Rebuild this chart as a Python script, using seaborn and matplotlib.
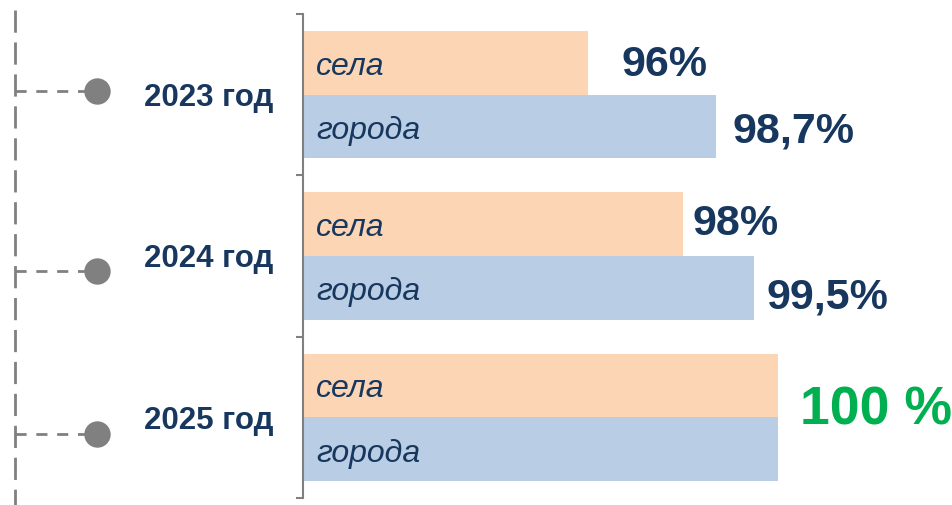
import pandas as pd
import seaborn as sns
import matplotlib.pyplot as plt
import matplotlib.transforms as mtransforms

# data
years = ['2023 год', '2024 год', '2025 год']
kinds = ['села', 'города']
village = [96, 98, 100]
city = [98.7, 99.5, 100]
village_labels = ['96%', '98%', None]
city_labels = ['98,7%', '99,5%', None]
total_labels = [None, None, '100 %']

navy = '#17375E'
grey = '#808080'
peach = '#FCD5B5'
blue = '#B9CDE5'
green = '#00B050'

df = pd.DataFrame({
    'year': years * 2,
    'kind': [kinds[0]] * 3 + [kinds[1]] * 3,
    'value': village + city,
})

sns.set_theme(style='white')
plt.rcParams['font.family'] = ['Liberation Sans', 'DejaVu Sans']

W, H = 952, 505
fig = plt.figure(figsize=(W / 100, H / 100), dpi=100)

# decoration: dashed timeline with dots, in pixel coordinates
deco = fig.add_axes([0, 0, 1, 1])
deco.set_xlim(0, W)
deco.set_ylim(H, 0)
deco.axis('off')
deco.plot([15, 15], [10, H], color=grey, lw=2, dashes=(8, 3.5))
for yy in [91, 271, 434]:
    deco.plot([15, 86], [yy, yy], color=grey, lw=2, dashes=(4, 3.5))
    deco.plot([97], [yy], 'o', color=grey, ms=19, mec='none')

# bars
ax = fig.add_axes([303 / W, 7 / H, (W - 303) / W, 484 / H])
sns.barplot(data=df, y='year', x='value', hue='kind', orient='h',
            palette=[peach, blue], saturation=1, width=0.79,
            linewidth=0, legend=False, ax=ax)
px_per_pct = 47.5
ax.set_xlim(90, 90 + (W - 303) / px_per_pct)
ax.set_ylim(2.5, -0.5)
ax.set_xlabel('')
ax.set_ylabel('')
ax.set_xticks([])

for s in ['top', 'right', 'bottom']:
    ax.spines[s].set_visible(False)
ax.spines['left'].set_color(grey)
ax.spines['left'].set_linewidth(1.5)

ax.set_yticks(range(len(years)))
ax.set_yticklabels(years, fontsize=22.5, fontweight='bold', color=navy)
ax.set_yticks([-0.5, 0.5, 1.5, 2.5], minor=True)
ax.tick_params(axis='y', which='major', length=0, pad=21)
ax.tick_params(axis='y', which='minor', left=True, length=5, width=1.5, color=grey)

trans = mtransforms.blended_transform_factory(ax.transAxes, ax.transData)
for i in range(len(years)):
    for k, dy in zip(kinds, (-0.2, 0.2)):
        ax.annotate(k, (0.02, i + dy), xycoords=trans,
                    xytext=(0, -3), textcoords='offset points', fontsize=23,
                    style='italic', color=navy, va='center', ha='left')

# value labels
v_off = [(24, -2), (6.5, 0)]
c_off = [(12, -3), (8.5, -7)]
for i in range(len(years)):
    if village_labels[i]:
        ax.annotate(village_labels[i], (village[i], i - 0.2),
                    xytext=v_off[i], textcoords='offset points',
                    fontsize=31, fontweight='bold', color=navy, va='center')
    if city_labels[i]:
        ax.annotate(city_labels[i], (city[i], i + 0.2),
                    xytext=c_off[i], textcoords='offset points',
                    fontsize=31, fontweight='bold', color=navy, va='center')
    if total_labels[i]:
        ax.annotate(total_labels[i], (max(village[i], city[i]), i),
                    xytext=(16, 5), textcoords='offset points',
                    fontsize=38.5, fontweight='bold', color=green, va='center',
                    annotation_clip=False)

fig.savefig('out.png', dpi=100)
